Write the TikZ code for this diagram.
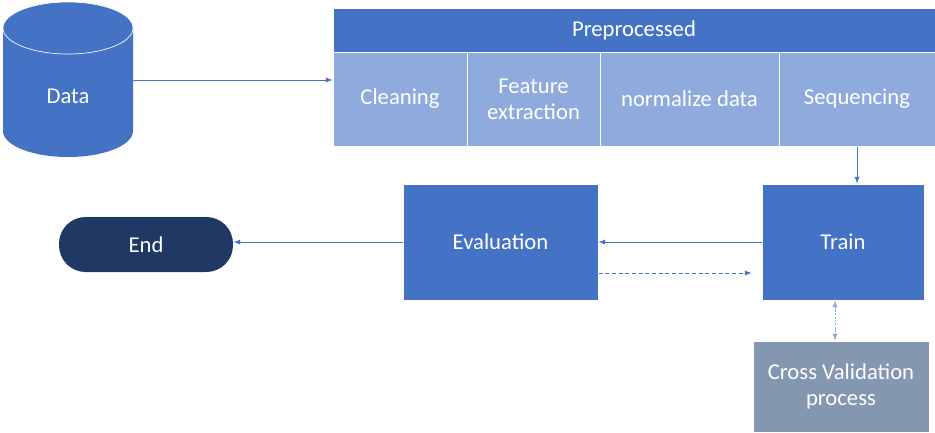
\documentclass[tikz,border=0pt]{standalone}
\usepackage{fontspec}
\setmainfont{Carlito}
\usetikzlibrary{arrows}
\definecolor{mainblue}{HTML}{4472C4}
\definecolor{lightblue}{HTML}{8FAADC}
\definecolor{navy}{HTML}{203864}
\definecolor{greyblue}{HTML}{8497B0}

\begin{document}
\begin{tikzpicture}[x=0.75pt, y=-0.75pt,
  box/.style={rectangle, fill=mainblue, draw=white, line width=0.75pt, text=white, align=center, inner sep=0pt, font=\fontsize{17}{19.5}\selectfont},
  sub/.style={box, fill=lightblue, minimum height=70.5pt},
  flow/.style={draw=mainblue, line width=0.75pt, -latex}]
\fill[white] (0,0) rectangle (935,432);
\useasboundingbox (0,0) rectangle (935,432);

% data store
\fill[mainblue] (3,28) -- (3,131) arc[start angle=180, end angle=360, x radius=48.75pt, y radius=19.5pt] -- (133,28) -- cycle;
\draw[white, fill=mainblue, line width=0.5pt] (68,28) ellipse [x radius=48.75pt, y radius=19.5pt];
\node[text=white, font=\fontsize{17}{19.5}\selectfont] (data) at (68,96) {Data};
\coordinate (dataside) at (133,80);

% preprocessing steps
\node[box, minimum width=451.5pt, minimum height=33pt] (prep) at (634,30) {Preprocessed};
\node[sub, minimum width=100.5pt] (clean) at (400,99) {Cleaning};
\node[sub, minimum width=99.75pt] (feat) at (533.5,99) {Feature\\extraction};
\node[sub, minimum width=134.25pt] (norm) at (689.5,99) {normalize data};
\node[sub, minimum width=117pt] (seq) at (857,99) {Sequencing};

\node[box, minimum width=121.5pt, minimum height=87pt] (train) at (843,242) {Train};
\node[box, minimum width=146.25pt, minimum height=87pt] (eval) at (500.5,242) {Evaluation};
\node[box, fill=navy, draw=none, rounded corners=20pt, minimum width=130.5pt, minimum height=41.25pt] (fin) at (146,244.5) {End};
\node[box, fill=greyblue, minimum width=132pt, minimum height=68.25pt] (cv) at (841,386.5) {Cross Validation\\process};

\draw[flow] (dataside) -- (dataside -| clean.west);
\draw[flow] (seq.south) -- (seq.south |- train.north);
\draw[flow] (train.west) -- (eval.east);
\draw[flow] (eval.west) -- (eval.west -| fin.east);
\draw[flow, dash pattern=on 3pt off 2pt, shorten >=7.5pt] ([yshift=-23.25pt]eval.east) -- ([yshift=-23.25pt]train.west);
\draw[flow, draw=lightblue, latex-latex, dash pattern=on 1.5pt off 1pt] ([xshift=-6pt]train.south) -- ([xshift=-6pt]train.south |- cv.north);

\end{tikzpicture}
\end{document}
